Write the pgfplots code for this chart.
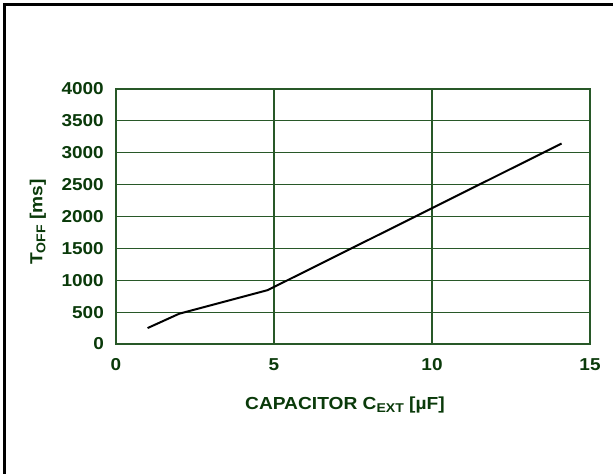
\documentclass[border=0pt]{standalone}
\usepackage{fontspec}
\setmainfont{Liberation Sans}[FakeStretch=1.1]
\usepackage{pgfplots}
\pgfplotsset{compat=1.18}
\definecolor{dg}{RGB}{10,58,10}
\definecolor{gl}{RGB}{40,88,40}
\newcommand{\sub}[1]{\raisebox{-3bp}{\fontsize{12.8}{12.8}\selectfont #1}}
\begin{document}
\begin{tikzpicture}[x=1bp,y=1bp]
\useasboundingbox (0,0) rectangle (613,474);
\draw[line width=3bp] (4.5,0) -- (4.5,469.5) -- (613,469.5);
\begin{axis}[
  at={(116bp,130bp)}, anchor=south west,
  scale only axis, width=474bp, height=255bp,
  xmin=0, xmax=15, ymin=0, ymax=4000,
  xtick={0,5,10,15}, ytick={0,500,...,4000},
  grid=major,
  major grid style={gl, line width=1.2bp},
  axis line style={gl, line width=1.3bp},
  tick style={draw=none},
  /pgf/number format/assume math mode=true,
  /pgf/number format/1000 sep={},
  ticklabel style={font=\fontsize{17.3}{20}\selectfont\bfseries, text=dg},
  xticklabel style={inner sep=0pt, anchor=north, yshift=-14bp},
  yticklabel style={inner sep=0pt, anchor=east, xshift=-12bp},
  xlabel={CAPACITOR C\sub{EXT} [µF]},
  ylabel={T\sub{OFF} [ms]},
  label style={font=\fontsize{17.5}{20}\selectfont\bfseries, text=dg},
  xlabel style={at={(axis description cs:0.483,0)}, anchor=base, yshift=-66bp, inner sep=0pt},
  ylabel style={at={(axis description cs:-0.1646,0.478)}, anchor=center, inner sep=0pt},
]
\addplot[black, line width=2bp] coordinates {
 (1.0,250) (2.0,475) (4.8,845) (10.0,2130) (14.1,3145)
};
\end{axis}
\end{tikzpicture}
\end{document}
